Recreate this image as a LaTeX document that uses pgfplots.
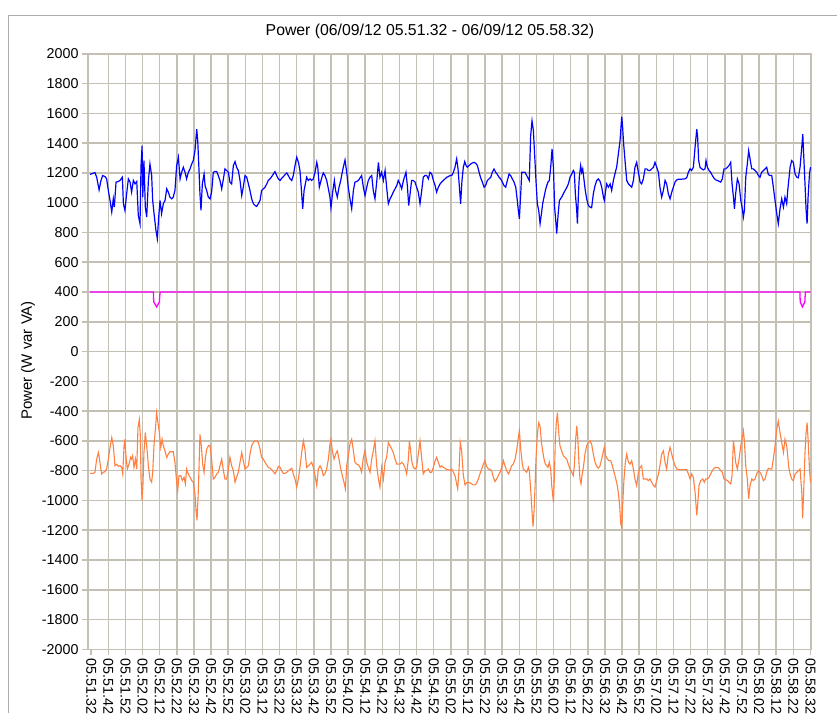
\documentclass[border=0pt]{standalone}
\usepackage{fontspec}
\setmainfont{Liberation Sans}
\usepackage{pgfplots}
\pgfplotsset{compat=1.18}
\definecolor{gridc}{RGB}{196,192,180}
\definecolor{framec}{RGB}{172,172,168}
\definecolor{pblue}{RGB}{0,0,255}
\definecolor{porange}{RGB}{255,128,64}
\definecolor{pmag}{RGB}{255,0,255}
\begin{document}
\begin{tikzpicture}[x=1pt,y=1pt]
\useasboundingbox (0,0) rectangle (837,713);
\fill[white] (0,0) rectangle (837,713);
\draw[framec, line width=1pt] (8,0) -- (8,697) -- (837,697);
\begin{axis}[
  at={(88pt,63.7pt)}, anchor=south west,
  scale only axis, width=723pt, height=595.5pt,
  xmin=-1.87, xmax=420.3, ymin=-2000, ymax=2000,
  xtick={10,20,...,420},
  xticklabels={05.51.42,05.51.52,05.52.02,05.52.12,05.52.22,05.52.32,05.52.42,05.52.52,05.53.02,05.53.12,05.53.22,05.53.32,05.53.42,05.53.52,05.54.02,05.54.12,05.54.22,05.54.32,05.54.42,05.54.52,05.55.02,05.55.12,05.55.22,05.55.32,05.55.42,05.55.52,05.56.02,05.56.12,05.56.22,05.56.32,05.56.42,05.56.52,05.57.02,05.57.12,05.57.22,05.57.32,05.57.42,05.57.52,05.58.02,05.58.12,05.58.22,05.58.32},
  extra x ticks={0}, extra x tick labels={05.51.32},
  extra x tick style={grid=none},
  ytick={-2000,-1800,...,2000},
  yticklabels={-2000,-1800,-1600,-1400,-1200,-1000,-800,-600,-400,-200,0,200,400,600,800,1000,1200,1400,1600,1800,2000},
  grid=major, major grid style={gridc, line width=1.5pt},
  axis line style={gridc, line width=1.5pt},
  tick align=outside, major tick length=6pt,
  tick style={gridc, line width=1.5pt},
  tick pos=left,
  ticklabel style={font=\fontsize{14.3}{16}\selectfont},
  x tick label style={rotate=-90, anchor=west},
  ylabel={Power (W var VA)},
  ylabel style={at={(axis description cs:-0.083,0.485)}, anchor=center, font=\fontsize{15}{17}\selectfont},
  title={Power (06/09/12 05.51.32 - 06/09/12 05.58.32)},
  title style={at={(axis description cs:0.473,1.027)}, anchor=center, font=\fontsize{15.8}{18}\selectfont},
]
% magenta
\addplot[pmag, line width=1.3pt] coordinates {
(-0.7,400) (36.3,400) (36.5,334) (38.2,300) (39.8,334) (40.2,400)
(413.8,400) (414.0,334) (415.3,300) (416.7,334) (417.0,400) (420,400)
};
% blue
\addplot[pblue, line width=1.2pt] coordinates {
(-0.7,1190) (1.2,1198) (2.2,1202) (3.2,1171) (4.6,1086) (5.7,1149) (6.7,1182) (8.1,1175) (9.0,1160) (10.0,1082)
(11.0,1015) (12.0,937) (12.9,1026) (13.5,970) (14.5,1138) (15.8,1142) (16.8,1149) (18.2,1171) (18.8,993) (19.7,948)
(20.7,1060) (21.7,1160) (22.7,1138) (23.6,1071) (24.6,1149) (25.6,1126) (26.6,1142) (27.5,915) (28.5,859) (29.1,1249)
(29.7,1383) (30.1,1037) (30.8,1283) (31.6,970) (32.4,903) (33.4,1149) (34.3,1260) (35.3,1182) (35.9,1015) (36.7,926)
(37.8,814) (38.6,758) (39.4,903) (40.2,1015) (41.1,926) (42.1,993) (43.1,1015) (44.1,1093) (45.0,1071) (46.0,1037)
(47.0,1026) (47.9,1037) (48.9,1082) (49.9,1249) (50.9,1305) (51.9,1160) (52.8,1204) (53.8,1238) (54.8,1204) (55.7,1160)
(56.7,1204) (57.7,1227) (58.7,1260) (59.6,1283) (60.6,1349) (61.6,1494) (62.2,1416) (63.0,1204) (63.5,1060) (64.1,948)
(64.9,1126) (65.9,1193) (66.5,1115) (67.4,1082) (68.4,1037) (69.4,1026) (70.3,1071) (71.3,1204) (72.3,1209) (73.3,1209)
(74.2,1182) (75.2,1149) (76.2,1093) (77.2,1160) (78.1,1227) (79.1,1216) (80.1,1204) (81.0,1138) (82.0,1126) (83.0,1249)
(84.0,1276) (84.9,1238) (85.9,1216) (86.9,1149) (87.9,1048) (88.8,1104) (89.8,1182) (90.8,1171) (91.8,1126) (92.7,1082)
(93.7,1026) (94.7,993) (95.7,981) (96.6,975) (97.6,993) (98.6,1015) (99.5,1082) (100.5,1093) (101.5,1104) (102.5,1126)
(103.4,1149) (104.4,1160) (105.4,1175) (106.4,1193) (107.3,1209) (108.3,1182) (109.3,1160) (110.3,1149) (111.2,1164) (112.2,1175)
(113.2,1189) (114.2,1200) (115.1,1182) (116.1,1160) (117.1,1149) (118.0,1182) (119.0,1249) (120.0,1305) (121.0,1271) (121.9,1216)
(122.9,1060) (123.5,959) (124.3,1082) (125.8,1171) (126.8,1149) (127.8,1160) (128.7,1149) (129.7,1160) (130.7,1204) (131.7,1271)
(132.3,1238) (133.2,1104) (134.6,1167) (135.5,1200) (136.5,1182) (137.5,1149) (138.5,1093) (139.4,1037) (140.0,966) (141.0,1071)
(142.0,1149) (142.7,1082) (143.7,1037) (144.7,1104) (145.7,1149) (146.4,1193) (147.2,1238) (148.2,1287) (149.2,1204) (150.1,1104)
(151.1,1026) (152.1,959) (153.1,1082) (154.0,1138) (155.0,1142) (156.0,1149) (157.0,1167) (157.9,1182) (158.9,1104) (159.9,1048)
(160.9,1104) (161.8,1149) (162.8,1171) (163.8,1182) (164.7,1082) (165.7,1026) (166.7,1138) (167.7,1271) (168.6,1171) (169.6,1204)
(170.6,1149) (171.6,1216) (172.5,1104) (173.5,993) (174.5,1026) (175.5,1048) (176.4,1071) (177.4,1093) (178.4,1115) (179.3,1149)
(180.3,1126) (181.3,1093) (182.3,1149) (183.2,1182) (183.8,1204) (184.6,1115) (185.4,981) (186.2,1060) (187.1,1149) (188.1,1149)
(189.1,1138) (190.0,1104) (191.0,1071) (192.0,993) (193.0,1082) (193.9,1171) (194.9,1182) (195.9,1182) (196.9,1160) (197.8,1204)
(198.8,1193) (199.8,1149) (200.8,1115) (201.7,1071) (202.7,1104) (203.7,1126) (204.6,1138) (205.6,1149) (206.6,1160) (207.6,1171)
(208.5,1175) (209.5,1182) (210.5,1182) (211.5,1204) (212.4,1238) (213.4,1294) (214.2,1227) (215.0,1104) (215.7,993) (216.5,1149)
(217.3,1238) (218.1,1276) (218.9,1249) (219.6,1238) (220.6,1249) (221.6,1260) (222.6,1267) (223.5,1271) (224.5,1265) (225.5,1249)
(226.5,1204) (227.4,1167) (228.4,1138) (229.4,1104) (230.3,1115) (231.3,1149) (232.3,1160) (233.3,1171) (234.2,1204) (235.2,1227)
(236.2,1204) (237.2,1189) (238.1,1171) (239.1,1160) (240.1,1138) (241.0,1115) (242.0,1104) (243.0,1149) (244.0,1193) (244.9,1182)
(245.9,1160) (246.9,1138) (247.9,1104) (248.8,1015) (249.4,948) (250.0,892) (250.8,1060) (251.4,1204) (252.3,1204) (253.3,1204)
(254.3,1182) (255.3,1160) (255.8,1149) (256.6,1450) (257.4,1550) (258.2,1483) (259.0,1305) (259.7,1149) (260.5,993) (261.3,948)
(262.1,859) (262.9,926) (263.6,993) (264.4,1037) (265.2,1082) (266.0,1115) (266.7,1138) (267.5,1149) (268.3,1238) (269.1,1361)
(269.9,1238) (270.6,970) (271.4,859) (271.8,792) (272.6,915) (273.4,1015) (274.7,1037) (275.7,1060) (276.7,1082) (277.6,1100)
(278.6,1126) (279.6,1171) (280.6,1193) (281.5,1216) (282.1,1204) (282.7,1060) (283.5,948) (283.9,859) (284.5,1060) (285.0,1171)
(285.8,1249) (286.4,1204) (287.0,1227) (287.8,1149) (288.5,1082) (289.3,1026) (290.3,981) (291.3,970) (292.2,966) (293.2,1060)
(294.2,1115) (295.2,1149) (296.1,1160) (297.1,1144) (298.1,1104) (299.1,1037) (299.6,1015) (300.4,1082) (301.0,1126) (302.0,1104)
(303.0,1126) (303.9,1082) (304.9,1149) (305.9,1198) (306.8,1238) (307.8,1327) (308.8,1416) (309.4,1517) (309.8,1577) (310.3,1506)
(310.9,1394) (311.7,1283) (312.7,1149) (313.7,1126) (314.6,1115) (315.6,1104) (316.6,1149) (317.5,1238) (318.5,1271) (319.5,1204)
(320.5,1138) (321.4,1126) (322.4,1160) (323.4,1227) (324.4,1227) (325.3,1216) (326.3,1216) (327.3,1227) (328.3,1238) (329.2,1271)
(330.2,1238) (331.2,1204) (332.1,1104) (333.1,1037) (334.1,1082) (335.1,1149) (336.0,1126) (337.0,1060) (338.0,1026) (339.0,1071)
(339.9,1104) (340.9,1138) (341.9,1153) (342.9,1158) (344.8,1158) (346.7,1160) (347.7,1167) (348.7,1204) (349.7,1227) (350.6,1216)
(351.6,1238) (352.6,1372) (353.6,1494) (354.1,1439) (354.7,1283) (355.5,1238) (356.5,1227) (357.4,1220) (358.4,1227) (359.0,1283)
(359.8,1238) (360.8,1216) (361.7,1204) (362.7,1182) (363.7,1164) (364.7,1153) (365.6,1149) (366.6,1144) (367.6,1138) (368.5,1160)
(369.5,1227) (370.5,1227) (371.5,1238) (372.4,1249) (373.4,1271) (374.2,1126) (375.0,1037) (375.6,959) (376.3,1060) (377.3,1160)
(378.3,1126) (379.3,1015) (380.2,959) (380.8,903) (381.4,948) (382.2,1171) (383.1,1260) (383.9,1349) (384.7,1294) (385.7,1227)
(386.6,1227) (387.6,1216) (388.6,1204) (389.6,1182) (390.5,1171) (391.5,1204) (392.5,1216) (393.5,1227) (394.4,1238) (395.4,1189)
(396.4,1182) (397.4,1182) (398.3,1104) (399.3,1015) (400.3,926) (401.2,859) (402.2,959) (403.2,1026) (404.2,970) (405.1,1037)
(406.1,993) (406.7,1082) (407.3,1149) (408.1,1238) (409.0,1283) (410.0,1271) (411.0,1193) (412.0,1171) (412.9,1167) (413.9,1238)
(414.9,1372) (415.5,1461) (416.0,1327) (416.8,1126) (417.4,959) (418.0,859) (418.6,1037) (419.4,1193) (420.0,1238)
};
% orange
\addplot[porange, line width=1.1pt] coordinates {
(-0.7,-818) (1.2,-818) (2.2,-811) (3.2,-722) (4.2,-678) (4.7,-711) (5.5,-778) (6.1,-822) (7.1,-811) (8.1,-807)
(9.0,-789) (10.0,-722) (11.0,-644) (12.0,-578) (12.9,-633) (13.9,-767) (14.9,-756) (15.8,-771) (16.8,-767) (17.8,-778)
(18.4,-822) (19.2,-633) (19.7,-589) (20.3,-700) (21.1,-789) (22.1,-756) (23.0,-711) (23.6,-722) (24.2,-700) (25.0,-778)
(25.8,-722) (26.6,-789) (27.3,-511) (28.1,-456) (28.7,-567) (29.1,-856) (29.7,-1000) (30.2,-900) (30.8,-678) (31.6,-544)
(32.4,-633) (33.4,-767) (34.3,-856) (35.3,-878) (35.9,-811) (36.7,-622) (37.5,-522) (38.2,-411) (39.0,-478) (39.8,-544)
(40.6,-644) (41.4,-589) (42.1,-633) (43.1,-667) (44.1,-711) (45.0,-689) (46.0,-673) (47.9,-673) (48.9,-744) (49.9,-878)
(50.5,-933) (51.3,-833) (52.3,-833) (53.2,-867) (54.2,-844) (55.0,-889) (55.7,-789) (56.7,-822) (57.7,-844) (58.7,-867)
(59.6,-878) (60.6,-956) (61.2,-1067) (61.8,-1133) (62.6,-922) (63.5,-556) (64.3,-633) (65.1,-756) (65.9,-811) (66.6,-722)
(67.4,-656) (68.4,-633) (69.4,-633) (70.3,-722) (71.3,-856) (72.3,-844) (73.3,-822) (74.2,-811) (75.2,-767) (76.2,-722)
(77.2,-800) (78.1,-856) (79.1,-856) (80.1,-789) (81.0,-711) (82.0,-767) (83.0,-800) (84.0,-878) (84.9,-844) (85.9,-811)
(86.9,-744) (87.9,-678) (88.8,-733) (89.8,-789) (90.8,-778) (91.8,-767) (92.7,-689) (93.7,-633) (94.7,-611) (95.7,-600)
(96.6,-600) (97.6,-611) (98.6,-656) (99.5,-711) (100.5,-722) (101.5,-744) (102.5,-762) (103.4,-778) (104.4,-784) (105.4,-793)
(106.4,-807) (107.3,-822) (108.3,-800) (109.3,-771) (110.3,-778) (111.2,-800) (112.2,-818) (113.2,-818) (114.2,-811) (115.1,-800)
(116.1,-793) (117.1,-784) (118.0,-822) (119.0,-856) (120.0,-911) (121.0,-856) (121.9,-778) (122.9,-678) (123.9,-600) (124.8,-656)
(125.8,-778) (126.8,-767) (127.8,-756) (128.7,-744) (129.7,-778) (130.7,-833) (131.7,-900) (132.6,-789) (133.6,-767) (134.6,-789)
(135.5,-833) (136.5,-822) (137.5,-789) (138.5,-722) (139.4,-622) (140.0,-589) (140.8,-667) (141.8,-722) (142.7,-689) (143.7,-667)
(144.7,-722) (145.7,-789) (146.6,-833) (147.6,-878) (148.4,-922) (149.2,-767) (150.1,-700) (151.1,-622) (152.1,-589) (153.1,-667)
(154.0,-744) (155.0,-756) (156.0,-762) (157.0,-778) (157.9,-811) (158.9,-711) (159.9,-667) (160.9,-744) (161.8,-778) (162.8,-811)
(163.8,-722) (164.7,-667) (165.7,-600) (166.7,-767) (167.7,-856) (168.6,-911) (169.6,-778) (170.6,-856) (171.6,-744) (172.5,-711)
(173.5,-611) (174.5,-633) (175.5,-656) (176.4,-678) (177.4,-722) (178.4,-756) (179.3,-756) (180.3,-756) (181.3,-744) (182.3,-756)
(183.2,-778) (184.2,-822) (185.2,-722) (185.8,-600) (186.5,-667) (187.3,-744) (188.1,-778) (189.1,-789) (190.0,-778) (191.0,-689)
(192.0,-600) (193.0,-722) (193.9,-822) (194.9,-800) (195.9,-800) (196.9,-789) (197.8,-811) (198.8,-811) (199.8,-778) (200.8,-733)
(201.7,-711) (202.7,-744) (203.7,-778) (204.6,-767) (205.6,-778) (206.6,-784) (207.6,-793) (208.5,-793) (209.5,-800) (210.5,-789)
(211.5,-811) (212.4,-833) (213.4,-889) (214.0,-922) (214.8,-789) (215.5,-611) (216.3,-667) (217.3,-833) (218.3,-896) (219.2,-882)
(220.2,-878) (221.2,-882) (222.2,-889) (223.1,-896) (224.1,-896) (225.1,-882) (226.1,-856) (227.0,-822) (228.0,-789) (229.0,-756)
(229.9,-733) (230.9,-771) (231.9,-789) (232.9,-793) (233.8,-800) (234.8,-844) (235.8,-873) (236.8,-856) (237.7,-833) (238.7,-811)
(239.7,-778) (240.7,-733) (241.6,-767) (242.6,-800) (243.6,-822) (244.5,-800) (245.5,-767) (246.5,-756) (247.5,-722) (248.4,-667)
(249.4,-578) (250.0,-533) (250.8,-656) (251.6,-744) (252.3,-789) (253.3,-800) (254.3,-811) (255.3,-778) (255.8,-800) (256.6,-922)
(257.4,-1078) (258.0,-1175) (258.6,-1067) (259.2,-900) (259.7,-722) (260.5,-556) (261.3,-478) (262.1,-500) (262.9,-611) (263.6,-667)
(264.4,-722) (265.2,-756) (266.0,-767) (266.7,-778) (267.5,-744) (268.3,-789) (268.9,-900) (269.5,-967) (269.9,-1011) (270.5,-833)
(271.0,-589) (271.6,-478) (272.2,-411) (273.0,-544) (273.7,-633) (274.7,-667) (275.7,-700) (276.7,-711) (277.6,-722) (278.6,-756)
(279.6,-789) (280.6,-811) (281.5,-833) (282.1,-767) (282.9,-589) (283.5,-500) (284.1,-578) (284.8,-744) (285.4,-856) (286.0,-889)
(286.6,-833) (287.4,-778) (288.3,-689) (289.3,-633) (290.3,-611) (291.3,-600) (292.2,-622) (293.2,-689) (294.2,-744) (295.2,-771)
(296.1,-784) (297.1,-767) (298.1,-722) (299.1,-667) (299.6,-644) (300.4,-700) (301.4,-722) (302.4,-733) (303.3,-733) (304.3,-767)
(305.3,-811) (306.3,-856) (307.2,-900) (308.0,-967) (308.6,-1044) (309.2,-1156) (309.8,-1180) (310.3,-1033) (311.1,-856) (311.9,-744)
(312.7,-689) (313.7,-744) (314.6,-756) (315.6,-733) (316.6,-789) (317.5,-856) (318.5,-900) (319.5,-811) (320.5,-778) (321.4,-767)
(322.4,-856) (323.4,-856) (324.4,-856) (325.3,-867) (326.3,-856) (327.3,-878) (328.3,-900) (329.2,-911) (330.2,-867) (331.2,-822)
(332.1,-767) (333.1,-689) (334.1,-667) (335.1,-744) (336.0,-789) (337.0,-689) (338.0,-644) (339.0,-689) (339.9,-733) (340.9,-767)
(341.9,-789) (343.8,-793) (345.8,-793) (347.7,-793) (348.7,-822) (349.7,-856) (350.6,-822) (351.6,-844) (352.6,-944) (353.6,-1100)
(354.1,-1033) (354.9,-900) (355.9,-867) (357.1,-856) (358.0,-878) (358.8,-856) (359.8,-856) (360.8,-844) (361.7,-822) (362.7,-800)
(363.7,-784) (364.7,-778) (365.6,-778) (366.6,-784) (367.6,-800) (368.5,-811) (369.5,-856) (370.5,-860) (371.5,-867) (372.4,-878)
(373.4,-889) (374.2,-833) (375.0,-600) (375.6,-656) (376.3,-744) (377.3,-789) (378.3,-722) (379.3,-633) (380.2,-578) (380.8,-533)
(381.4,-600) (382.2,-767) (383.1,-856) (383.9,-989) (384.7,-900) (385.7,-856) (386.6,-867) (387.6,-856) (388.6,-822) (389.6,-800)
(390.5,-811) (391.5,-833) (392.5,-867) (393.5,-856) (394.4,-811) (395.4,-784) (396.4,-789) (397.4,-789) (398.3,-722) (399.3,-633)
(400.3,-522) (401.2,-467) (402.2,-544) (403.2,-611) (404.2,-678) (405.1,-589) (406.1,-633) (406.7,-700) (407.3,-778) (408.1,-822)
(409.0,-856) (410.0,-867) (411.0,-822) (412.0,-811) (412.9,-800) (413.9,-789) (414.9,-944) (415.4,-1120) (416.0,-944) (416.8,-678)
(417.4,-544) (418.0,-478) (418.6,-589) (419.4,-789) (420.0,-878)
};
\end{axis}
\end{tikzpicture}
\end{document}
